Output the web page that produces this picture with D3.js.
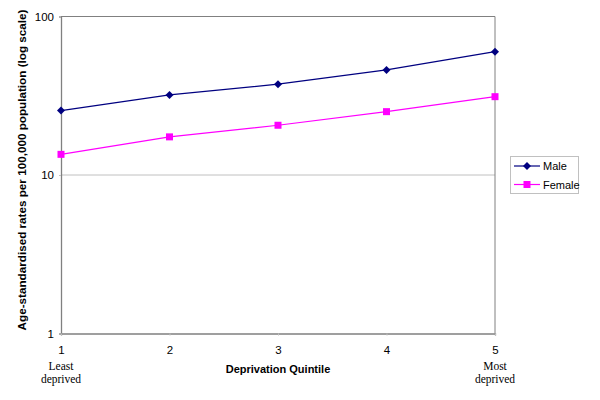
<!DOCTYPE html>
<html><head><meta charset="utf-8">
<script src="https://cdn.jsdelivr.net/npm/d3@7"></script>
<style>body{margin:0;background:#fff}</style>
</head><body>
<svg id="c" width="600" height="400"></svg>
<script>
const quintiles = [1, 2, 3, 4, 5];
const male = [25.5, 32.0, 37.4, 46.0, 60.0];
const female = [13.5, 17.4, 20.6, 25.1, 31.2];
const yTicks = [1, 10, 100];
const seriesNames = ["Male", "Female"];

const svg = d3.select("#c");
const L = 61, R = 495, T = 16.5, B = 333.5;
const x = d3.scaleLinear().domain([1, 5]).range([L, R]);
const y = d3.scaleLog().domain([1, 100]).range([B, T]);
const grey = "#808080";

// square diamond symbol type
const squareDiamond = {
  draw(ctx, size) {
    const r = Math.sqrt(size / 2);
    ctx.moveTo(0, -r); ctx.lineTo(r, 0); ctx.lineTo(0, r); ctx.lineTo(-r, 0); ctx.closePath();
  }
};
const diamondPath = d3.symbol(squareDiamond, 32)();

// gridline
svg.append("g").selectAll("line").data([10]).join("line")
  .attr("x1", L).attr("x2", R).attr("y1", d => y(d)).attr("y2", d => y(d))
  .attr("stroke", "#c0c0c0").attr("stroke-width", 1);

// plot frame (top and right lines)
svg.append("line").attr("x1", L).attr("x2", R).attr("y1", T).attr("y2", T).attr("stroke", grey);
svg.append("line").attr("x1", R).attr("x2", R).attr("y1", T).attr("y2", B).attr("stroke", grey);

const yAxis = svg.append("g").attr("transform", `translate(${L},0)`)
  .call(d3.axisLeft(y).tickValues(yTicks).tickFormat(d3.format("d")).tickSize(2).tickPadding(5));
const xAxis = svg.append("g").attr("transform", `translate(0,${B})`)
  .call(d3.axisBottom(x).tickValues(quintiles).tickFormat(d3.format("d")).tickSize(2).tickPadding(10));
[yAxis, xAxis].forEach(g => {
  g.select(".domain").attr("stroke", grey).attr("stroke-width", 1.3);
  g.selectAll(".tick line").attr("stroke", "#c0c0c0");
  g.selectAll("text").attr("font-family", "Arial, Liberation Sans, sans-serif").attr("font-size", 11.5).attr("fill", "#000");
});

const colors = ["#000080", "#ff00ff"];
const data = [male, female];
const line = d3.line().x((d, i) => x(quintiles[i])).y(d => y(d));
data.forEach((s, k) => {
  svg.append("path").attr("d", line(s)).attr("fill", "none")
    .attr("stroke", colors[k]).attr("stroke-width", 1.2);
  const g = svg.append("g");
  s.forEach((v, i) => {
    if (k === 0) {
      g.append("path").attr("d", diamondPath)
        .attr("transform", `translate(${x(quintiles[i])},${y(v)})`).attr("fill", colors[k]);
    } else {
      g.append("rect").attr("x", x(quintiles[i]) - 3.5).attr("y", y(v) - 3.5)
        .attr("width", 7).attr("height", 7).attr("fill", colors[k]);
    }
  });
});

// axis titles
svg.append("text").attr("x", 278).attr("y", 373).attr("text-anchor", "middle")
  .attr("font-family", "Arial, Liberation Sans, sans-serif").attr("font-size", 11).attr("font-weight", "bold")
  .text("Deprivation Quintile");
svg.append("text").attr("transform", "translate(26,170) rotate(-90)").attr("text-anchor", "middle")
  .attr("font-family", "Arial, Liberation Sans, sans-serif").attr("font-size", 11.7).attr("font-weight", "bold")
  .text("Age-standardised rates per 100,000 population (log scale)");

// end labels
const endLabels = [["Least", "deprived", 1], ["Most", "deprived", 5]];
endLabels.forEach(([a, b, q]) => {
  const t = svg.append("text").attr("text-anchor", "middle")
    .attr("font-family", "Liberation Serif, Times New Roman, serif").attr("font-size", 11.5);
  t.append("tspan").attr("x", x(q)).attr("y", 370).text(a);
  t.append("tspan").attr("x", x(q)).attr("y", 383).text(b);
});

// legend
const lg = svg.append("g");
lg.append("rect").attr("x", 510.5).attr("y", 156.5).attr("width", 68).attr("height", 37)
  .attr("fill", "#fff").attr("stroke", "#c0c0c0");
seriesNames.forEach((n, k) => {
  const yy = 166 + k * 18.5;
  lg.append("line").attr("x1", 514).attr("x2", 540).attr("y1", yy).attr("y2", yy)
    .attr("stroke", colors[k]).attr("stroke-width", 1.2);
  if (k === 0) lg.append("path").attr("d", diamondPath).attr("transform", `translate(527,${yy})`).attr("fill", colors[k]);
  else lg.append("rect").attr("x", 523.5).attr("y", yy - 3.5).attr("width", 7).attr("height", 7).attr("fill", colors[k]);
  lg.append("text").attr("x", 543).attr("y", yy + 4).attr("font-family", "Arial, Liberation Sans, sans-serif")
    .attr("font-size", 11).text(n);
});
</script>
</body></html>
